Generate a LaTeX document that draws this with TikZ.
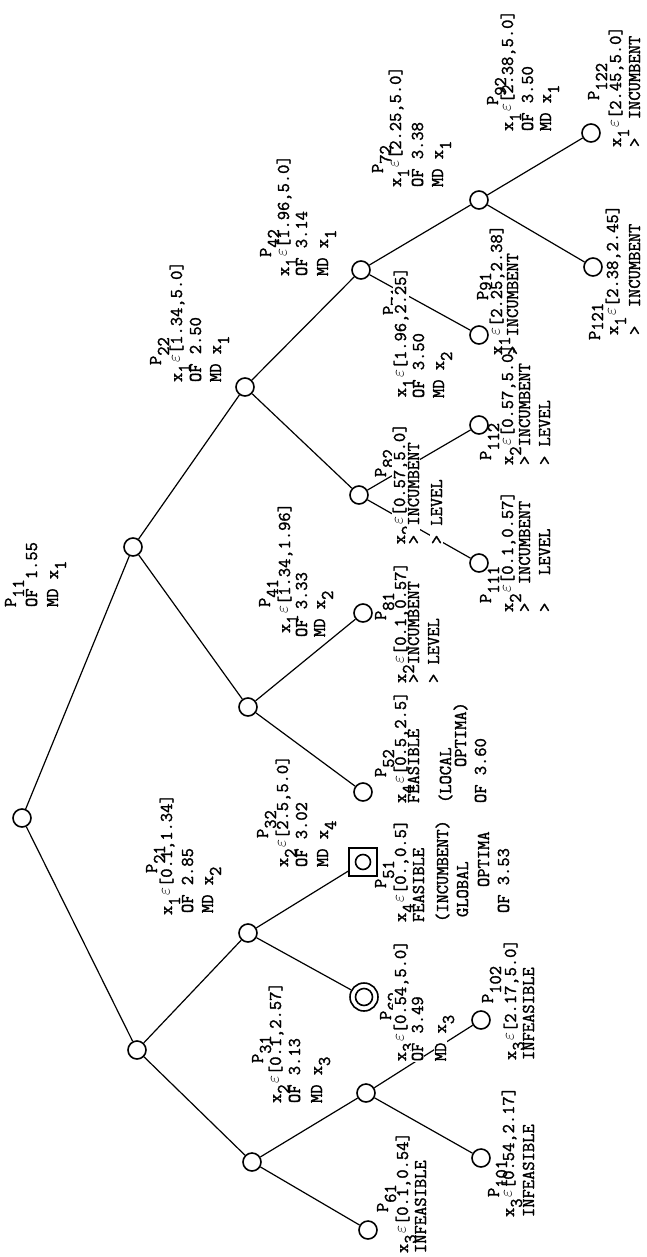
\documentclass[tikz,border=0pt]{standalone}
\usepackage{fontspec}
\newfontfamily\twfam{lmmono12-regular.otf}[FakeBold=1.6]
\newcommand\twf{\fontsize{18}{20}\twfam}
\newlength\cellw \setlength\cellw{9.45pt}
\newcommand\sbx[1]{\raisebox{-8pt}[0pt][0pt]{#1}}
\newcommand\sbs[1]{\raisebox{-3pt}[0pt][0pt]{#1}}
\newcommand\eps{\makebox[\cellw]{\raisebox{2.5pt}[0pt][0pt]{\fontsize{17}{17}\selectfont$\varepsilon$}}}
\newcommand\xe[1]{x\sbx{#1}\eps}
\newcommand\xv[1]{x\sbx{#1}}
\newcommand\wb[1]{{\setlength\fboxsep{0.8pt}\colorbox{white}{#1}}}
\tikzset{
 ln/.style={line width=1.2pt},
 pn/.style={circle,draw,line width=1.6pt,minimum size=18pt,inner sep=0pt},
 lab/.style={rotate=90,anchor=base west,inner sep=0pt,outer sep=0pt,font=\twf},
}
\begin{document}
\begin{tikzpicture}[x=1pt,y=-1pt]
\fill[white] (0,0) rectangle (646,1257);
\useasboundingbox (0,0) rectangle (646,1257);
% tree nodes
\node[pn] (A) at (22,818) {};
\node[pn] (B) at (133,547) {};
\node[pn] (C) at (137,1050) {};
\node[pn] (D) at (245,387) {};
\node[pn] (F) at (248,707) {};
\node[pn] (E) at (248,933) {};
\node[pn] (G) at (252,1162) {};
\node[pn] (X) at (361,270) {};
\node[pn] (Y) at (359,495) {};
\node[pn] (F1) at (363,613) {};
\node[pn] (F2) at (363,792) {};
\node[draw,line width=1.7pt,minimum size=28pt,inner sep=0pt] (Sq) at (363,862) {};
\node[pn,minimum size=15pt] (Sqi) at (363,862) {};
\node[pn,minimum size=28pt] (Db) at (364,997) {};
\node[pn,minimum size=17pt] (Dbi) at (364,997) {};
\node[pn] (G1) at (366,1093) {};
\node[pn] (G2) at (368,1230) {};
\node[pn] (X1) at (479,200) {};
\node[pn] (X2) at (479,335) {};
\node[pn] (Y1) at (479,425) {};
\node[pn] (Y2) at (479,563) {};
\node[pn] (G1a) at (481,1020) {};
\node[pn] (G1b) at (481,1158) {};
\node[pn] (X1a) at (591,133) {};
\node[pn] (X1b) at (593,267) {};
% connectors
\draw[ln] (A) -- (B);
\draw[ln] (A) -- (C);
\draw[ln] (B) -- (D);
\draw[ln] (B) -- (F);
\draw[ln] (C) -- (E);
\draw[ln] (C) -- (G);
\draw[ln] (D) -- (X);
\draw[ln] (D) -- (Y);
\draw[ln] (F) -- (F1);
\draw[ln] (F) -- (F2);
\draw[ln] (E) -- (Sq);
\draw[ln] (E) -- (Db);
\draw[ln] (G) -- (G1);
\draw[ln] (G) -- (G2);
\draw[ln] (X) -- (X1);
\draw[ln] (X) -- (X2);
\draw[ln] (Y) -- (Y1);
\draw[ln] (Y) -- (Y2);
\draw[ln] (G1) -- (G1a);
\draw[ln] (G1) -- (G1b);
\draw[ln] (X1) -- (X1a);
\draw[ln] (X1) -- (X1b);
% labels
% P11
\node[lab] (l11p) at (16,607) {P\sbx{11}};
\node[lab] (l11b) at (37,607) {OF 1.55};
\node[lab] (l11c) at (58,607) {MD \xv{1}};
% P22
\node[lab] (l22p) at (161,365) {P\sbx{22}};
\node[lab] (l22a) at (182,382) {\xe{1}[1.34,5.0]};
\node[lab] (l22b) at (201,382) {OF 2.50};
\node[lab] (l22c) at (221,382) {MD \xv{1}};
% P42
\node[lab] (l42p) at (271,257) {P\sbx{42}};
\node[lab] (l42a) at (289,276) {\xe{1}[1.96,5.0]};
\node[lab] (l42b) at (307,276) {OF 3.14};
\node[lab] (l42c) at (328,276) {MD \xv{1}};
% P72
\node[lab] (l72p) at (383,173) {P\sbx{72}};
\node[lab] (l72a) at (401,187) {\xe{1}[2.25,5.0]};
\node[lab] (l72b) at (423,187) {OF 3.38};
\node[lab] (l72c) at (443,187) {MD \xv{1}};
% P92
\node[lab] (l92p) at (498,105) {P\sbx{92}};
\node[lab] (l92a) at (513,131) {\xe{1}[2.38,5.0]};
\node[lab] (l92b) at (533,131) {OF 3.50};
\node[lab] (l92c) at (551,131) {MD \xv{1}};
% P122
\node[lab] (l122p) at (599,100) {P\sbx{122}};
\node[lab] (l122a) at (621,147) {\xe{1}[2.45,5.0]};
\node[lab] (l122b) at (640,147) {>~~INCUMBENT};
% P91
\node[lab] (l91p) at (488,300) {P\sbs{91}};
\node[lab] (l91a) at (502,355) {\xe{1}[2.25,2.38]};
\node[lab] (l91b) at (518,355) {> INCUMBENT};
% P121
\node[lab] (l121p) at (600,340) {P\sbs{121}};
\node[lab] (l121a) at (618,335) {\xe{1}[2.38,2.45]};
\node[lab] (l121b) at (640,335) {>~~INCUMBENT};
% P71
\node[lab] (l71p) at (394,315) {P\sbx{71}};
\node[lab] (l71a) at (406,398) {\wb{\xe{1}[1.96,2.25]}};
\node[lab] (l71b) at (424,398) {OF 3.50};
\node[lab] (l71c) at (444,398) {MD \xv{2}};
% P41
\node[lab] (l41p) at (270,607) {P\sbx{41}};
\node[lab] (l41a) at (290,633) {\xe{1}[1.34,1.96]};
\node[lab] (l41b) at (307,637) {OF 3.33};
\node[lab] (l41c) at (325,637) {MD \xv{2}};
% P81
\node[lab] (l81p) at (386,620) {P\sbx{81}};
\node[lab] (l81a) at (406,683) {\xe{2}[0.1,0.57]};
\node[lab] (l81b) at (419,683) {> INCUMBENT};
\node[lab] (l81c) at (439,683) {> LEVEL};
% P82
\node[lab] (l82p) at (386,477) {P\sbx{82}};
\node[lab] (l82a) at (405,545) {\wb{\xe{2}[0.57,5.0]}};
\node[lab] (l82b) at (419,545) {\wb{> INCUMBENT}};
\node[lab] (l82c) at (442,545) {\wb{> LEVEL}};
% P111
\node[lab] (l111p) at (491,603) {P\sbx{111}};
\node[lab] (l111a) at (513,612) {\xe{2}[0.1,0.57]};
\node[lab] (l111b) at (530,612) {>~~INCUMBENT};
\node[lab] (l111c) at (550,612) {>~~~LEVEL};
% P112
\node[lab] (l112p) at (491,460) {P\sbx{112}};
\node[lab] (l112a) at (513,465) {\xe{2}[0.57,5.0]};
\node[lab] (l112b) at (530,465) {> INCUMBENT};
\node[lab] (l112c) at (550,465) {> LEVEL};
% P52
\node[lab] (l52p) at (386,777) {P\sbx{52}};
\node[lab] (l52a) at (406,803) {\xe{4}[0.5,2.5]};
\node[lab] (l52b) at (419,803) {FEASIBLE};
\node[lab] (l52c) at (451,803) {(LOCAL};
\node[lab] (l52d) at (466,767) {OPTIMA)};
\node[lab] (l52e) at (486,803) {OF 3.60};
% P51
\node[lab] (l51p) at (386,888) {P\sbx{51}};
\node[lab] (l51a) at (406,922) {\xe{4}[0.,0.5]};
\node[lab] (l51b) at (424,922) {FEASIBLE};
\node[lab] (l51c) at (448,922) {(INCUMBENT)};
\node[lab] (l51d) at (468,917) {GLOBAL};
\node[lab] (l51e) at (489,887) {OPTIMA};
\node[lab] (l51f) at (509,913) {OF 3.53};
% P62
\node[lab] (l62p) at (391,1020) {P\sbx{62}};
\node[lab] (l62a) at (406,1062) {\wb{\xe{3}[0.54,5.0]}};
\node[lab] (l62b) at (423,1062) {\wb{OF 3.49}};
\node[lab] (l62c) at (446,1062) {\wb{MD \xv{3}}};
% P102
\node[lab] (l102p) at (493,1003) {P\sbx{102}};
\node[lab] (l102a) at (516,1060) {\xe{3}[2.17,5.0]};
\node[lab] (l102b) at (534,1060) {INFEASIBLE};
% P31
\node[lab] (l31p) at (263,1063) {P\sbx{31}};
\node[lab] (l31a) at (281,1103) {\xe{2}[0.1,2.57]};
\node[lab] (l31b) at (300,1103) {OF 3.13};
\node[lab] (l31c) at (322,1103) {MD \xv{3}};
% P21
\node[lab] (l21p) at (157,873) {P\sbx{21}};
\node[lab] (l21a) at (172,915) {\xe{1}[0.1,1.34]};
\node[lab] (l21b) at (193,913) {OF 2.85};
\node[lab] (l21c) at (213,913) {MD \xv{2}};
% P32
\node[lab] (l32p) at (268,838) {P\sbx{32}};
\node[lab] (l32a) at (288,867) {\xe{2}[2.5,5.0]};
\node[lab] (l32b) at (307,867) {OF 3.02};
\node[lab] (l32c) at (328,867) {MD \xv{4}};
% P61
\node[lab] (l61p) at (388,1212) {P\sbx{61}};
\node[lab] (l61a) at (408,1253) {\xe{3}[0.1,0.54]};
\node[lab] (l61b) at (426,1253) {INFEASIBLE};
% P101
\node[lab] (l101p) at (499,1197) {P\sbx{101}};
\node[lab] (l101a) at (514,1217) {\xe{3}[0.54,2.17]};
\node[lab] (l101b) at (534,1217) {INFEASIBLE};
\end{tikzpicture}
\end{document}
